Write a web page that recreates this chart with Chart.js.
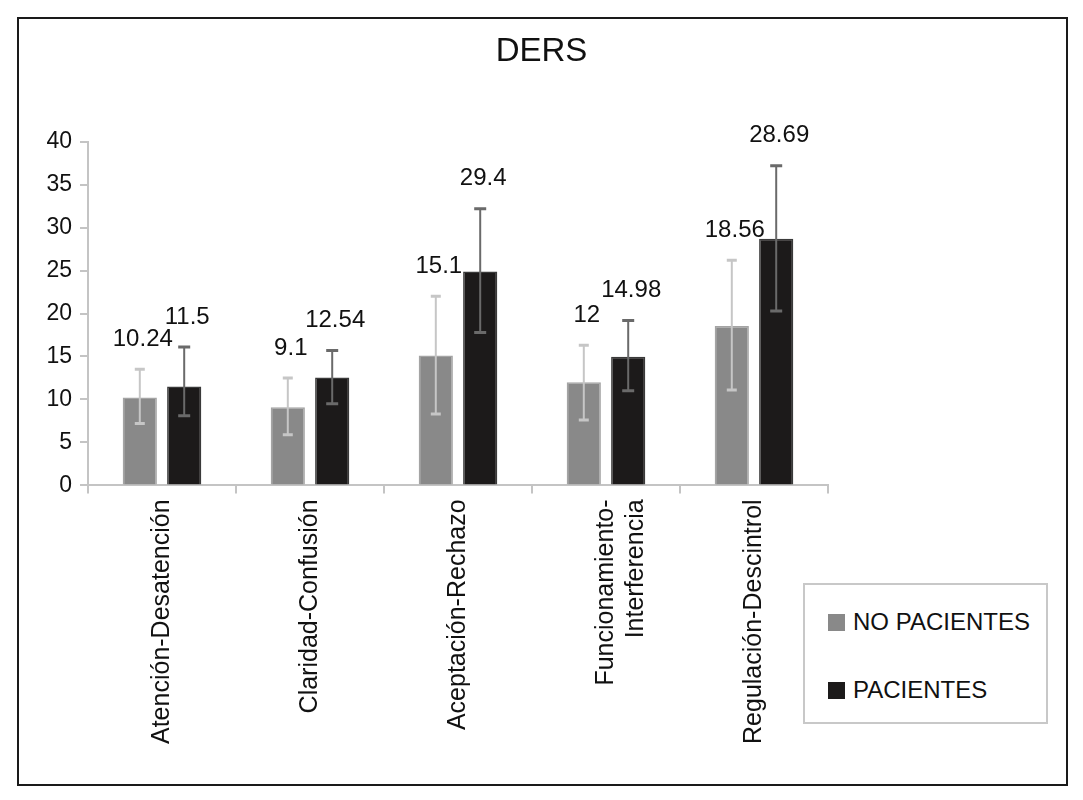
<!DOCTYPE html>
<html>
<head>
<meta charset="utf-8">
<script src="https://cdn.jsdelivr.net/npm/chart.js@4.4.1/dist/chart.umd.min.js"></script>
<style>
  html, body { margin: 0; padding: 0; background: #ffffff; }
  #wrap { position: relative; width: 1083px; height: 800px; }
  #frame { position: absolute; left: 17px; top: 17px; width: 1047px; height: 765px; border: 2px solid #1a1a1a; }
  #chart { position: absolute; left: 0; top: 0; }
  #legend { position: absolute; left: 803px; top: 583px; width: 241px; height: 137px;
            border: 2px solid #c8c8c8; background: #ffffff;
            font-family: "Liberation Sans", Arial, sans-serif; font-size: 24px; color: #111; }
  .item { position: absolute; left: 23px; display: flex; align-items: center; white-space: nowrap; }
  .sw { width: 17px; height: 17px; margin-right: 8px; }
</style>
</head>
<body>
<div id="wrap">
  <div id="frame"></div>
  <canvas id="chart" width="1083" height="800"></canvas>
  <div id="legend"></div>
</div>
<script>
// ---- data ----
const categories = ["Atención-Desatención", "Claridad-Confusión", "Aceptación-Rechazo", ["Funcionamiento-", "Interferencia"], "Regulación-Descintrol"];
const seriesNames = ["NO PACIENTES", "PACIENTES"];
const noPacientes = [10.24, 9.1, 15.1, 12, 18.56];
const pacientes = [11.5, 12.54, 24.9, 14.98, 28.69];
const noPacientesHigh = [13.5, 12.5, 22.0, 16.3, 26.2];
const noPacientesLow = [7.2, 5.9, 8.3, 7.6, 11.1];
const pacientesHigh = [16.1, 15.7, 32.2, 19.2, 37.2];
const pacientesLow = [8.1, 9.5, 17.8, 11.0, 20.3];
const noPacientesLabels = ["10.24", "9.1", "15.1", "12", "18.56"];
const pacientesLabels = ["11.5", "12.54", "29.4", "14.98", "28.69"];
const yTicks = [0, 5, 10, 15, 20, 25, 30, 35, 40];

const FONT = '"Liberation Sans", Arial, sans-serif';
const colors = { fill: ['#898989', '#1c1a1a'], border: ['#a4a4a4', '#3a3a3a'], err: ['#c6c6c6', '#6a6a6a'] };
const highs = [noPacientesHigh, pacientesHigh];
const lows = [noPacientesLow, pacientesLow];
const texts = [noPacientesLabels, pacientesLabels];

const errorBars = {
  id: 'errorBars',
  afterDatasetsDraw(chart) {
    const ctx = chart.ctx, y = chart.scales.y;
    chart.data.datasets.forEach((ds, i) => {
      const meta = chart.getDatasetMeta(i);
      ctx.save();
      ctx.strokeStyle = colors.err[i];
      meta.data.forEach((bar, j) => {
        const yh = y.getPixelForValue(highs[i][j]);
        const yl = y.getPixelForValue(lows[i][j]);
        const cw = i === 0 ? 5 : 6;
        ctx.lineWidth = 2;
        ctx.beginPath(); ctx.moveTo(bar.x, yh); ctx.lineTo(bar.x, yl); ctx.stroke();
        ctx.lineWidth = 3;
        ctx.beginPath();
        ctx.moveTo(bar.x - cw, yh); ctx.lineTo(bar.x + cw, yh);
        ctx.moveTo(bar.x - cw, yl); ctx.lineTo(bar.x + cw, yl);
        ctx.stroke();
      });
      ctx.restore();
    });
  },
  afterDraw(chart) {
    const ctx = chart.ctx, y = chart.scales.y;
    ctx.save();
    ctx.font = '24px ' + FONT;
    ctx.fillStyle = '#111';
    ctx.textAlign = 'center';
    ctx.textBaseline = 'middle';
    chart.data.datasets.forEach((ds, i) => {
      chart.getDatasetMeta(i).data.forEach((bar, j) => {
        const yh = y.getPixelForValue(highs[i][j]);
        ctx.fillText(texts[i][j], bar.x + 3, yh - 30);
      });
    });
    ctx.restore();
  }
};

const chart = new Chart(document.getElementById('chart'), {
  type: 'bar',
  data: {
    labels: categories,
    datasets: [
      { label: seriesNames[0], data: noPacientes, backgroundColor: colors.fill[0], borderColor: colors.border[0], borderWidth: 1.5 },
      { label: seriesNames[1], data: pacientes, backgroundColor: colors.fill[1], borderColor: colors.border[1], borderWidth: 1.5 }
    ]
  },
  options: {
    responsive: false,
    animation: false,
    devicePixelRatio: 1,
    categoryPercentage: 0.6,
    barPercentage: 0.77,
    layout: { padding: { left: 0, right: 0, top: 20, bottom: 50 } },
    plugins: {
      legend: { display: false },
      tooltip: { enabled: false },
      title: { display: true, text: 'DERS', color: '#111', font: { family: FONT, size: 33, weight: 'normal' }, padding: { top: 12, bottom: 70 } }
    },
    scales: {
      x: {
        grid: { offset: true, drawOnChartArea: false, tickLength: 8, color: '#c4c4c4', lineWidth: 2 },
        border: { color: '#c4c4c4', width: 2 },
        ticks: { minRotation: 90, maxRotation: 90, autoSkip: false, padding: 6, color: '#111', font: { family: FONT, size: 25 } }
      },
      y: {
        min: 0, max: 40,
        afterFit(scale) { scale.width = 88; },
        afterBuildTicks(scale) { scale.ticks = yTicks.map(v => ({ value: v })); },
        grid: { drawOnChartArea: false, tickLength: 8, color: '#c4c4c4', lineWidth: 2 },
        border: { color: '#c4c4c4', width: 2 },
        ticks: { padding: 8, color: '#111', font: { family: FONT, size: 23 } }
      },
      yRight: {
        position: 'right',
        display: true,
        afterFit(scale) { scale.width = 255; },
        grid: { display: false },
        border: { display: false },
        ticks: { display: false }
      }
    }
  },
  plugins: [errorBars]
});

// HTML legend built from datasets
const leg = document.getElementById('legend');
chart.data.datasets.forEach((ds, i) => {
  const it = document.createElement('div');
  it.className = 'item';
  it.style.top = (i === 0 ? 23 : 91) + 'px';
  const sw = document.createElement('span');
  sw.className = 'sw';
  sw.style.background = ds.backgroundColor;
  const tx = document.createElement('span');
  tx.textContent = ds.label;
  it.appendChild(sw); it.appendChild(tx);
  leg.appendChild(it);
});
</script>
</body>
</html>
